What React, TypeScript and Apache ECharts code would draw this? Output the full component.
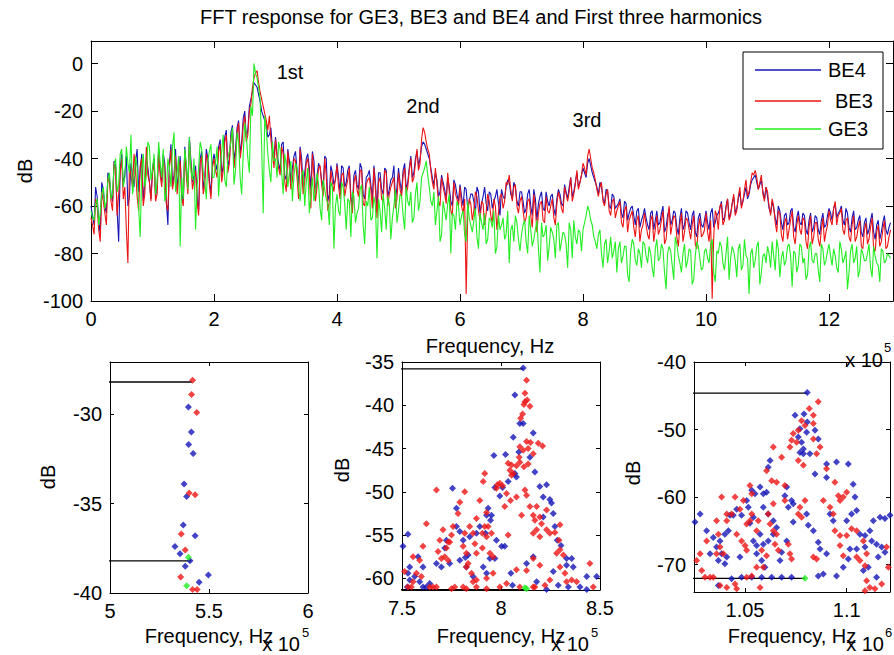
import React, { useEffect, useRef } from "react";
import * as echarts from "echarts";

// ---------- Top chart data (frequency axis x 10^5 Hz) ----------
// *_DB samples sit at x = i*0.05, *_MID samples at x = i*0.05 + 0.025
const FREQ_STEP = 0.05;
const BE4_DB = [
  -60,-68,-56,-72,-53,-63,-48,-58,-43,-75,-38,-47,-60,-42,-52,-36,-45,-58,-40,-50,
  -44,-56,-36,-50,-42,-68,-34,-47,-53,-39,-58,-45,-31,-50,-43,-62,-37,-48,-40,-55,
  -38,-45,-32,-43,-28,-40,-26,-36,-24,-33,-20,-28,-15,-8,-10,-16,-22,-26,-30,-36,
  -31,-42,-34,-47,-36,-50,-39,-45,-35,-52,-40,-44,-37,-55,-42,-49,-39,-58,-43,-51,
  -42,-54,-44,-50,-43,-60,-45,-53,-44,-57,-47,-51,-43,-62,-46,-55,-45,-53,-48,-58,
  -44,-54,-42,-50,-39,-46,-37,-40,-33,-36,-40,-48,-46,-56,-47,-53,-48,-58,-49,-55,
  -51,-60,-53,-58,-55,-63,-54,-59,-52,-62,-55,-58,-53,-64,-56,-52,-50,-57,-52,-60,
  -54,-63,-55,-60,-53,-66,-56,-61,-54,-60,-55,-64,-53,-59,-51,-57,-48,-54,-46,-50,
  -44,-48,-40,-46,-50,-55,-52,-59,-54,-61,-56,-60,-57,-65,-59,-63,-60,-68,-61,-66,
  -61,-68,-63,-70,-62,-67,-60,-69,-61,-66,-63,-72,-61,-68,-63,-70,-62,-73,-63,-69,
  -62,-70,-61,-67,-63,-58,-65,-57,-63,-56,-61,-54,-58,-52,-55,-49,-47,-53,-49,-57,
  -56,-63,-61,-68,-62,-70,-63,-67,-61,-71,-62,-68,-64,-72,-63,-69,-65,-72,-63,-68,
  -61,-66,-59,-63,-60,-68,-63,-71,-62,-69,-64,-73,-65,-70,-63,-74,-66,-71,-64,-72,-67,
];
const BE4_MID = [
  -64,-52,-66,-50,-60,-46,-55,-41,-62,-44,-51,-39,-56,-47,-41,-54,-38,-50,-44,-57,
  -40,-52,-45,-38,-58,-42,-51,-36,-46,-55,-35,-52,-41,-47,-56,-40,-53,-36,-49,-42,
  -42,-35,-47,-31,-44,-29,-41,-27,-38,-23,-31,-18,-12,-9,-13,-20,-24,-31,-27,-40,
  -38,-45,-33,-49,-41,-44,-37,-51,-40,-46,-38,-53,-41,-48,-44,-52,-40,-55,-46,-49,
  -48,-43,-52,-45,-56,-47,-51,-42,-55,-48,-45,-57,-50,-46,-53,-44,-56,-49,-43,-52,
  -50,-45,-53,-44,-48,-40,-43,-35,-34,-38,-44,-51,-49,-54,-50,-57,-52,-60,-51,-58,
  -56,-52,-61,-55,-58,-52,-63,-56,-59,-54,-61,-56,-59,-53,-57,-49,-55,-50,-58,-54,
  -58,-61,-53,-64,-57,-59,-54,-62,-58,-56,-61,-57,-55,-60,-54,-52,-56,-50,-52,-47,
  -46,-42,-43,-48,-52,-50,-57,-53,-60,-55,-61,-59,-63,-58,-66,-61,-64,-62,-69,-64,
  -65,-70,-62,-66,-68,-63,-71,-64,-68,-62,-69,-65,-70,-62,-67,-64,-71,-65,-68,-66,
  -67,-63,-69,-64,-61,-66,-60,-65,-59,-63,-57,-60,-55,-57,-51,-48,-50,-51,-54,-52,
  -61,-58,-65,-60,-67,-64,-68,-62,-69,-65,-67,-63,-70,-66,-71,-64,-70,-66,-69,-64,
  -63,-61,-65,-62,-66,-61,-69,-65,-70,-66,-71,-67,-72,-66,-71,-68,-74,-67,-70,-69,
];
const BE3_DB = [
  -65,-72,-60,-75,-58,-68,-50,-62,-45,-55,-40,-52,-84,-47,-38,-56,-43,-60,-35,-50,
  -46,-58,-38,-52,-44,-62,-36,-49,-55,-41,-60,-47,-33,-53,-45,-64,-39,-51,-42,-57,
  -40,-48,-34,-45,-30,-42,-28,-38,-25,-35,-22,-30,-17,-6,-3,-12,-18,-24,-22,-38,
  -32,-44,-35,-50,-37,-53,-40,-48,-36,-55,-42,-47,-38,-58,-44,-51,-40,-62,-45,-54,
  -43,-57,-46,-52,-44,-63,-47,-56,-45,-60,-49,-53,-44,-65,-48,-58,-46,-55,-50,-61,
  -46,-56,-44,-52,-40,-48,-36,-42,-27,-33,-38,-50,-44,-58,-48,-55,-46,-62,-50,-57,
  -52,-63,-97,-57,-66,-54,-62,-58,-68,-55,-64,-57,-70,-56,-61,-50,-47,-58,-51,-63,
  -56,-67,-58,-64,-55,-71,-59,-66,-56,-63,-57,-68,-54,-61,-52,-58,-48,-55,-45,-50,
  -42,-47,-36,-44,-49,-56,-50,-60,-53,-64,-57,-62,-58,-69,-60,-66,-62,-73,-64,-70,
  -63,-72,-66,-75,-64,-70,-62,-74,-60,-68,-65,-77,-63,-71,-66,-74,-64,-78,-65,-72,
  -63,-75,-99,-62,-70,-59,-66,-57,-64,-55,-62,-52,-58,-49,-54,-46,-45,-53,-47,-58,
  -54,-64,-60,-71,-63,-75,-65,-70,-62,-76,-64,-72,-66,-78,-64,-73,-67,-77,-65,-71,
  -62,-68,-58,-64,-61,-72,-65,-75,-64,-73,-66,-78,-67,-74,-65,-79,-68,-75,-66,-77,-70,
];
const BE3_MID = [
  -68,-57,-70,-54,-63,-48,-58,-42,-64,-46,-57,-70,-43,-52,-45,-62,-40,-55,-47,-58,
  -42,-55,-47,-40,-59,-44,-53,-39,-48,-57,-37,-55,-43,-49,-58,-42,-55,-38,-51,-44,
  -45,-37,-50,-33,-46,-31,-44,-29,-40,-26,-33,-20,-10,-4,-8,-15,-21,-28,-32,-44,
  -40,-47,-38,-54,-44,-49,-41,-57,-45,-50,-40,-61,-47,-52,-43,-56,-47,-58,-50,-48,
  -52,-47,-56,-49,-58,-50,-53,-45,-59,-51,-48,-61,-53,-50,-57,-45,-60,-52,-48,-57,
  -53,-47,-55,-45,-50,-42,-45,-32,-29,-36,-45,-53,-51,-60,-52,-59,-54,-64,-55,-60,
  -60,-57,-64,-59,-62,-56,-66,-59,-63,-58,-67,-60,-63,-55,-58,-51,-53,-52,-60,-58,
  -62,-65,-57,-69,-61,-63,-58,-67,-62,-60,-65,-59,-57,-63,-55,-54,-58,-51,-53,-47,
  -44,-39,-40,-46,-53,-52,-58,-55,-62,-58,-65,-60,-67,-62,-71,-64,-69,-66,-75,-68,
  -68,-74,-64,-70,-72,-66,-76,-67,-72,-64,-73,-68,-75,-65,-70,-68,-76,-69,-73,-70,
  -71,-66,-73,-64,-60,-68,-61,-66,-59,-64,-56,-61,-53,-56,-50,-47,-48,-50,-55,-52,
  -60,-57,-67,-62,-72,-67,-74,-66,-73,-68,-70,-65,-75,-69,-76,-67,-74,-70,-75,-68,
  -66,-61,-68,-63,-70,-66,-73,-68,-75,-69,-77,-70,-76,-69,-78,-71,-77,-70,-78,-73,
];
const GE3_DB = [
  -62,-66,-57,-63,-52,-58,-46,-55,-40,-51,-36,-48,-42,-30,-50,-44,-73,-38,-47,-35,
  -45,-55,-33,-48,-58,-40,-52,-29,-46,-77,-57,-42,-31,-49,-70,-44,-36,-50,-41,-34,
  -48,-35,-44,-30,-52,-37,-27,-45,-33,-55,-25,-40,-18,0,-6,-15,-63,-28,-45,-33,
  -40,-33,-46,-38,-52,-41,-47,-44,-58,-45,-50,-63,-48,-54,-51,-66,-53,-59,-50,-78,
  -55,-64,-52,-70,-58,-54,-67,-61,-51,-76,-60,-66,-56,-82,-62,-55,-70,-59,-65,-53,
  -62,-56,-70,-58,-54,-65,-50,-58,-46,-41,-52,-60,-68,-56,-72,-62,-59,-80,-64,-58,
  -68,-62,-75,-65,-71,-61,-78,-67,-63,-74,-66,-62,-77,-70,-65,-72,-84,-68,-64,-74,
  -72,-66,-80,-70,-74,-66,-88,-73,-68,-77,-71,-82,-67,-75,-72,-86,-70,-66,-76,-71,
  -70,-64,-62,-68,-75,-72,-80,-76,-84,-73,-79,-88,-75,-81,-77,-92,-74,-83,-78,-86,
  -76,-84,-80,-90,-74,-82,-78,-95,-77,-85,-73,-81,-88,-76,-83,-79,-91,-75,-82,-86,
  -78,-84,-74,-92,-80,-77,-87,-73,-82,-79,-90,-76,-85,-81,-97,-78,-83,-75,-88,-80,
  -77,-86,-81,-74,-90,-79,-83,-76,-94,-80,-85,-77,-82,-89,-75,-84,-80,-92,-78,-83,
  -76,-85,-81,-88,-78,-82,-95,-79,-84,-77,-87,-80,-83,-76,-90,-81,-85,-78,-84,-80,-82,
];
const GE3_MID = [
  -65,-59,-68,-55,-61,-49,-57,-43,-54,-38,-52,-35,-46,-55,-39,-61,-45,-52,-33,-49,
  -38,-50,-42,-36,-55,-44,-35,-54,-39,-48,-36,-53,-45,-40,-52,-33,-46,-57,-37,-48,
  -42,-56,-37,-49,-40,-33,-51,-29,-48,-38,-30,-46,-22,-4,-10,-35,-22,-38,-50,-41,
  -48,-36,-55,-43,-46,-58,-42,-53,-47,-60,-44,-55,-58,-46,-61,-49,-57,-68,-52,-60,
  -62,-50,-59,-57,-73,-56,-63,-53,-68,-58,-52,-65,-60,-57,-71,-61,-56,-74,-60,-67,
  -55,-64,-52,-60,-67,-55,-62,-48,-44,-47,-58,-54,-62,-75,-58,-66,-55,-63,-70,-60,
  -64,-72,-58,-68,-66,-73,-63,-70,-76,-65,-69,-80,-64,-68,-74,-62,-70,-75,-67,-79,
  -68,-75,-64,-77,-70,-78,-67,-72,-83,-69,-74,-68,-79,-71,-76,-67,-82,-73,-70,-79,
  -67,-60,-66,-73,-78,-70,-86,-74,-79,-82,-75,-78,-84,-77,-89,-79,-76,-85,-80,-75,
  -81,-77,-86,-78,-83,-76,-88,-80,-79,-91,-76,-84,-80,-86,-78,-93,-81,-77,-87,-79,
  -82,-76,-88,-79,-75,-84,-80,-91,-77,-83,-78,-87,-74,-82,-80,-86,-77,-93,-81,-84,
  -80,-75,-87,-78,-82,-85,-77,-81,-79,-88,-76,-84,-91,-78,-83,-80,-87,-76,-85,-79,
  -81,-78,-86,-75,-84,-79,-88,-76,-82,-90,-78,-83,-80,-86,-77,-84,-92,-79,-83,-81,
];

// ---------- Harmonic zoom data ----------
// 2nd harmonic (x 10^5 Hz)
const H2_BE4 = [[5.396,-29.6],[5.411,-31.0],[5.397,-31.7],[5.420,-32.2],[5.374,-33.9],[5.387,-34.6],[5.370,-36.2],[5.430,-36.8],[5.328,-37.4],[5.354,-37.8],[5.404,-38.2],[5.380,-38.5],[5.497,-39.0],[5.450,-39.4]];
const H2_BE3 = [[5.417,-28.1],[5.412,-28.9],[5.438,-29.9],[5.400,-34.4],[5.430,-34.5],[5.360,-36.7],[5.380,-37.6],[5.357,-39.1],[5.417,-39.8],[5.440,-39.8]];
const H2_GE3 = [[5.396,-38.0],[5.387,-39.6]];
const H2_PEAKS = [[[4.943,-28.2],[5.415,-28.2]],[[4.933,-38.2],[5.41,-38.2]]];
// 3rd harmonic (x 10^5 Hz)
const H3_BE4 = [[8.112,-35.7],[8.070,-38.8],[8.062,-43.7],[8.095,-42.1],[8.112,-42.1],[8.163,-43.2],[8.090,-45.4],[8.146,-46.0],[7.964,-45.8],[8.023,-45.7],[8.078,-48.3],[8.070,-47.9],[8.036,-48.8],[8.008,-49.5],[7.994,-50.5],[7.969,-49.5],[7.935,-51.9],[7.952,-52.7],[7.927,-52.7],[7.947,-53.3],[7.893,-54.0],[7.922,-54.8],[7.876,-54.8],[7.842,-55.2],[7.775,-51.9],[7.775,-54.0],[7.755,-49.6],[7.792,-54.6],[7.809,-55.6],[7.834,-57.3],[7.724,-55.6],[7.716,-56.5],[7.741,-58.3],[7.792,-57.9],[7.820,-57.6],[7.530,-54.9],[7.505,-56.3],[7.581,-57.5],[7.539,-58.7],[7.530,-59.4],[7.539,-60.2],[7.564,-59.8],[7.589,-60.4],[7.606,-61.0],[7.623,-61.0],[7.527,-61.0],[7.640,-60.6],[7.606,-58.7],[7.674,-58.3],[7.699,-58.7],[7.825,-58.7],[7.859,-59.8],[7.910,-58.7],[7.927,-59.4],[7.944,-57.7],[7.969,-57.7],[7.977,-55.6],[8.003,-56.3],[8.019,-56.3],[8.050,-59.4],[8.058,-60.8],[8.129,-58.3],[8.163,-57.5],[8.171,-47.7],[8.213,-50.6],[8.196,-49.4],[8.230,-49.2],[8.247,-50.9],[8.255,-51.3],[8.213,-52.9],[8.264,-52.5],[8.272,-54.0],[8.284,-55.6],[8.303,-56.2],[8.331,-57.7],[8.357,-57.7],[8.331,-58.5],[8.365,-58.7],[8.289,-60.8],[8.340,-61.0],[8.399,-61.0],[8.433,-59.8],[8.466,-61.5],[8.433,-61.3],[8.483,-59.8],[8.230,-61.3],[8.180,-60.4],[8.264,-59.2]];
const H3_BE3 = [[8.129,-37.1],[8.121,-38.6],[8.132,-39.4],[8.146,-40.1],[8.121,-39.6],[8.116,-39.9],[8.099,-41.5],[8.109,-41.0],[8.129,-44.2],[8.149,-44.3],[8.137,-45.0],[8.188,-44.4],[8.210,-44.7],[8.163,-45.6],[8.112,-45.2],[8.095,-44.8],[8.092,-46.0],[8.095,-46.6],[8.078,-47.0],[8.036,-46.7],[8.053,-46.9],[8.045,-47.5],[8.062,-47.9],[8.053,-48.1],[8.116,-47.1],[8.137,-46.8],[7.994,-49.0],[8.008,-49.3],[7.982,-49.2],[7.977,-49.6],[8.028,-50.2],[8.048,-51.0],[8.078,-50.6],[8.129,-50.4],[8.121,-49.8],[8.146,-51.7],[8.180,-51.7],[8.163,-52.7],[8.196,-52.9],[8.171,-53.3],[8.205,-53.7],[8.180,-54.4],[8.230,-54.4],[8.247,-54.8],[8.272,-54.7],[8.298,-53.8],[8.163,-54.8],[8.196,-55.2],[8.230,-52.1],[8.293,-55.6],[8.298,-56.7],[8.281,-57.1],[8.315,-57.3],[8.163,-57.7],[8.196,-58.5],[8.129,-59.1],[8.298,-58.7],[8.323,-59.4],[8.357,-60.2],[8.382,-60.4],[8.331,-60.4],[8.449,-58.3],[8.466,-61.0],[8.247,-60.2],[8.222,-60.8],[8.171,-61.0],[7.893,-51.0],[7.918,-47.9],[7.910,-48.8],[7.927,-52.4],[7.935,-54.0],[7.952,-54.8],[7.918,-54.0],[7.906,-54.8],[7.927,-55.2],[7.876,-53.1],[7.842,-54.0],[7.859,-54.8],[7.868,-56.0],[7.876,-57.1],[7.906,-56.5],[7.944,-57.1],[7.960,-57.5],[7.825,-57.1],[7.834,-58.3],[7.825,-58.7],[7.851,-59.4],[7.859,-60.4],[7.876,-60.2],[7.927,-60.0],[7.792,-51.2],[7.783,-52.5],[7.817,-50.0],[7.817,-54.8],[7.809,-56.3],[7.758,-54.0],[7.750,-55.0],[7.733,-55.8],[7.707,-54.4],[7.724,-56.5],[7.741,-55.8],[7.716,-57.5],[7.733,-57.9],[7.691,-55.6],[7.682,-56.9],[7.699,-57.7],[7.674,-49.8],[7.623,-53.7],[7.606,-56.3],[7.598,-59.8],[7.573,-59.4],[7.556,-60.4],[7.547,-61.0],[7.530,-61.0],[7.513,-59.2],[7.589,-57.9],[7.640,-61.0],[7.657,-61.0],[7.674,-61.0],[7.750,-61.2],[7.766,-61.0],[7.809,-61.0],[7.825,-61.2],[7.876,-61.0],[7.927,-61.2],[7.994,-61.0],[8.028,-60.6],[7.960,-59.4],[8.078,-59.0],[8.095,-61.0],[8.163,-61.0],[8.104,-52.7],[8.019,-51.7],[8.036,-55.0],[7.556,-57.5]];
const H3_GE3 = [[8.121,-61.1],[8.129,-61.2]];
const H3_PEAKS = [[[7.463,-35.8],[8.112,-35.8]],[[7.463,-61.3],[8.12,-61.3]]];
// 4th harmonic (x 10^6 Hz)
const H4_BE4 = [[1.0806,-44.5],[1.0746,-47.9],[1.0790,-47.7],[1.0806,-48.9],[1.0770,-49.9],[1.0803,-50.4],[1.0844,-50.1],[1.0860,-51.4],[1.0762,-51.1],[1.0778,-51.9],[1.0787,-52.9],[1.0770,-53.4],[1.0787,-53.6],[1.0819,-53.6],[1.0901,-55.1],[1.0950,-54.8],[1.1008,-55.1],[1.0844,-56.6],[1.0901,-57.1],[1.0705,-58.5],[1.0696,-59.8],[1.0729,-60.5],[1.0737,-61.0],[1.0713,-61.5],[1.0623,-54.6],[1.0614,-55.6],[1.0533,-59.0],[1.0549,-59.5],[1.0574,-58.5],[1.0590,-59.5],[1.0606,-59.3],[1.0508,-60.5],[1.0516,-61.5],[1.0483,-62.7],[1.0524,-63.9],[1.0541,-63.0],[1.0590,-61.5],[1.0614,-62.5],[1.0639,-63.5],[1.0655,-64.5],[1.0639,-65.5],[1.0614,-66.5],[1.0574,-65.5],[1.0590,-67.0],[1.0557,-68.4],[1.0582,-69.4],[1.0598,-70.4],[1.0442,-62.7],[1.0459,-61.8],[1.0426,-62.7],[1.0418,-65.0],[1.0401,-65.5],[1.0377,-66.5],[1.0344,-66.0],[1.0328,-68.4],[1.0360,-67.4],[1.0385,-68.4],[1.0410,-68.9],[1.0401,-69.9],[1.0369,-69.4],[1.0475,-68.9],[1.0311,-65.0],[1.0279,-62.5],[1.0254,-63.7],[1.0369,-73.1],[1.0434,-72.1],[1.0483,-71.9],[1.0533,-71.9],[1.0582,-71.9],[1.0631,-71.9],[1.0680,-71.9],[1.0729,-71.9],[1.0672,-69.4],[1.0680,-68.2],[1.0705,-66.5],[1.0737,-63.7],[1.0803,-62.5],[1.0811,-64.2],[1.0836,-65.0],[1.0860,-66.7],[1.0869,-67.7],[1.0901,-68.4],[1.0885,-71.4],[1.0860,-71.7],[1.0950,-71.7],[1.0983,-70.4],[1.1008,-69.2],[1.1016,-67.7],[1.1049,-67.7],[1.1090,-67.4],[1.0918,-62.5],[1.0934,-63.5],[1.1000,-63.5],[1.1024,-62.5],[1.1049,-62.0],[1.1065,-65.5],[1.1090,-65.7],[1.1114,-65.0],[1.1123,-66.5],[1.1147,-67.0],[1.1172,-67.4],[1.1188,-68.2],[1.1155,-68.9],[1.1131,-63.5],[1.1164,-63.0],[1.1188,-63.2],[1.1213,-62.7],[1.1032,-58.1],[1.1041,-60.0],[1.1082,-70.9],[1.1106,-70.4],[1.1147,-71.9],[1.0541,-66.5],[1.0557,-67.2]];
const H4_BE3 = [[1.0860,-45.9],[1.0816,-46.9],[1.0836,-47.9],[1.0778,-48.7],[1.0795,-49.4],[1.0762,-50.1],[1.0737,-50.6],[1.0729,-51.6],[1.0754,-51.9],[1.0836,-51.4],[1.0869,-52.6],[1.0852,-53.6],[1.0639,-52.6],[1.0680,-54.1],[1.0721,-52.6],[1.0762,-54.6],[1.0787,-55.3],[1.0606,-56.1],[1.0631,-57.6],[1.0655,-57.8],[1.0696,-58.3],[1.0696,-60.5],[1.0639,-61.0],[1.0770,-61.5],[1.0762,-62.5],[1.0778,-63.0],[1.0524,-58.3],[1.0533,-59.5],[1.0451,-60.0],[1.0492,-60.5],[1.0475,-61.8],[1.0533,-62.5],[1.0524,-63.5],[1.0508,-64.0],[1.0565,-63.5],[1.0557,-65.0],[1.0614,-62.5],[1.0623,-64.0],[1.0639,-65.0],[1.0655,-65.5],[1.0647,-67.0],[1.0664,-67.9],[1.0713,-67.0],[1.0721,-68.4],[1.0729,-69.2],[1.0582,-67.9],[1.0606,-68.7],[1.0590,-70.4],[1.0459,-65.5],[1.0483,-66.5],[1.0500,-67.2],[1.0508,-67.9],[1.0385,-60.0],[1.0360,-63.5],[1.0369,-65.5],[1.0377,-67.4],[1.0393,-68.4],[1.0360,-68.4],[1.0410,-62.5],[1.0434,-62.5],[1.0410,-63.5],[1.0311,-66.5],[1.0279,-68.4],[1.0262,-69.4],[1.0287,-70.9],[1.0303,-71.9],[1.0328,-71.9],[1.0344,-71.9],[1.0377,-73.1],[1.0410,-73.4],[1.0451,-72.9],[1.0459,-73.6],[1.0557,-70.4],[1.0574,-73.4],[1.0508,-71.9],[1.0533,-71.7],[1.0795,-60.5],[1.0836,-68.9],[1.0852,-69.2],[1.0885,-60.5],[1.0918,-61.5],[1.0934,-62.5],[1.0967,-60.5],[1.0959,-59.8],[1.0983,-60.0],[1.1000,-59.3],[1.0942,-57.8],[1.0901,-55.8],[1.0942,-65.0],[1.0967,-65.7],[1.0967,-67.2],[1.0983,-68.7],[1.1000,-65.7],[1.1024,-64.7],[1.1049,-65.0],[1.1049,-68.9],[1.1065,-69.4],[1.1090,-70.2],[1.1098,-72.4],[1.1114,-73.4],[1.1139,-73.6],[1.1172,-72.9],[1.1082,-66.5],[1.1098,-68.4],[1.1196,-67.4],[1.1205,-70.4],[1.1090,-73.9],[1.0836,-49.1]];
const H4_GE3 = [[1.0795,-72.05]];
const H4_PEAKS = [[[1.0151,-44.6],[1.0806,-44.6]],[[1.0136,-72.05],[1.0795,-72.05]]];

// ---------- Axis ticks ----------
const TOP_X_TICKS = [0, 2, 4, 6, 8, 10, 12];
const TOP_Y_TICKS = [-100, -80, -60, -40, -20, 0];
const H2_X_TICKS = [5, 5.5, 6];
const H2_Y_TICKS = [-40, -35, -30];
const H3_X_TICKS = [7.5, 8, 8.5];
const H3_Y_TICKS = [-60, -55, -50, -45, -40, -35];
const H4_X_TICKS = [1.05, 1.1];
const H4_Y_TICKS = [-70, -60, -50, -40];

const SERIES_NAMES = ["BE4", "BE3", "GE3"];
const HARMONIC_LABELS = ["1st", "2nd", "3rd"];

const BLUE = "#1414b8";
const RED = "#ee1414";
const GREEN = "#22ee22";
const FONT = "Liberation Sans, Arial, Helvetica, sans-serif";
const FS = 20;

function fmt(v: number) {
  return String(+Number(v).toFixed(4));
}

function axesFor(
  g: number,
  xmin: number,
  xmax: number,
  xt: number[],
  ymin: number,
  ymax: number,
  yt: number[],
  tickLen: number
) {
  const line = { show: true, onZero: false, lineStyle: { color: "#000", width: 1 } };
  const lbl = { color: "#000", fontSize: FS, fontFamily: FONT };
  const xs = [
    {
      type: "value", gridIndex: g, position: "bottom", min: xmin, max: xmax,
      axisLine: line,
      axisTick: { show: true, inside: true, length: tickLen, customValues: xt, lineStyle: { color: "#000" } },
      axisLabel: { ...lbl, margin: 8, customValues: xt, formatter: fmt },
      splitLine: { show: false },
    },
    {
      type: "value", gridIndex: g, position: "top", min: xmin, max: xmax,
      axisLine: line,
      axisTick: { show: true, inside: true, length: tickLen, customValues: xt, lineStyle: { color: "#000" } },
      axisLabel: { show: false },
      splitLine: { show: false },
    },
  ];
  const ys = [
    {
      type: "value", gridIndex: g, position: "left", min: ymin, max: ymax,
      axisLine: line,
      axisTick: { show: true, inside: true, length: tickLen, customValues: yt, lineStyle: { color: "#000" } },
      axisLabel: { ...lbl, margin: 8, customValues: yt, formatter: fmt },
      splitLine: { show: false },
    },
    {
      type: "value", gridIndex: g, position: "right", min: ymin, max: ymax,
      axisLine: line,
      axisTick: { show: true, inside: true, length: tickLen, customValues: yt, lineStyle: { color: "#000" } },
      axisLabel: { show: false },
      splitLine: { show: false },
    },
  ];
  return { xs, ys };
}

function txt(x: number, y: number, text: string, opts: any = {}) {
  return {
    type: "text",
    x,
    y,
    rotation: opts.rotation || 0,
    z: 100,
    style: {
      text,
      fill: "#000",
      font: `${opts.size || FS}px ${FONT}`,
      align: opts.align || "center",
      verticalAlign: opts.va || "middle",
    },
  };
}

function interleave(main: number[], mid: number[]) {
  const out: number[][] = [];
  main.forEach((v, i) => {
    out.push([+(i * FREQ_STEP).toFixed(3), v]);
    if (i < mid.length) out.push([+(i * FREQ_STEP + FREQ_STEP / 2).toFixed(3), mid[i]]);
  });
  return out;
}

export default function App() {
  const ref = useRef<HTMLDivElement>(null);
  useEffect(() => {
    if (!ref.current) return;
    const chart = echarts.init(ref.current, null, { renderer: "svg" });

    const a0 = axesFor(0, 0, 13.04, TOP_X_TICKS, -100, 9.5, TOP_Y_TICKS, 7);
    const a1 = axesFor(1, 5, 6, H2_X_TICKS, -40, -27.08, H2_Y_TICKS, 4);
    const a2 = axesFor(2, 7.5, 8.5, H3_X_TICKS, -61.35, -35, H3_Y_TICKS, 4);
    const a3 = axesFor(3, 1.0249, 1.1213, H4_X_TICKS, -74.07, -40, H4_Y_TICKS, 4);
    const xAxis = [...a0.xs, ...a1.xs, ...a2.xs, ...a3.xs];
    const yAxis = [...a0.ys, ...a1.ys, ...a2.ys, ...a3.ys];

    const topColors = [BLUE, RED, GREEN];
    const topData = [
      interleave(BE4_DB, BE4_MID),
      interleave(BE3_DB, BE3_MID),
      interleave(GE3_DB, GE3_MID),
    ];
    const series: any[] = topData.map((d, k) => ({
      type: "line",
      name: SERIES_NAMES[k],
      xAxisIndex: 0,
      yAxisIndex: 0,
      data: d,
      symbol: "none",
      showSymbol: false,
      lineStyle: { color: topColors[k], width: 1.1 },
      itemStyle: { color: topColors[k] },
      z: 2 + k,
    }));

    const sub = [
      { g: 1, pts: [H2_BE4, H2_BE3, H2_GE3], peaks: H2_PEAKS },
      { g: 2, pts: [H3_BE4, H3_BE3, H3_GE3], peaks: H3_PEAKS },
      { g: 3, pts: [H4_BE4, H4_BE3, H4_GE3], peaks: H4_PEAKS },
    ];
    sub.forEach((s) => {
      s.peaks.forEach((p) => {
        series.push({
          type: "line",
          xAxisIndex: s.g * 2,
          yAxisIndex: s.g * 2,
          data: p,
          symbol: "none",
          clip: false,
          lineStyle: { color: "#000", width: 1.3 },
          z: 2,
        });
      });
      s.pts.forEach((p, k) => {
        series.push({
          type: "scatter",
          name: SERIES_NAMES[k],
          xAxisIndex: s.g * 2,
          yAxisIndex: s.g * 2,
          data: p,
          symbol: "diamond",
          symbolSize: 7,
          itemStyle: { color: topColors[k] },
          z: 3 + k,
        });
      });
    });

    const legendY = [70, 101, 129];
    const legendTextX = [828, 835, 828];
    const legendEls: any[] = [
      {
        type: "rect",
        shape: { x: 743, y: 52, width: 140, height: 97 },
        style: { fill: "#fff", stroke: "#000", lineWidth: 1 },
        z: 90,
      },
    ];
    SERIES_NAMES.forEach((n, k) => {
      legendEls.push({
        type: "line",
        shape: { x1: 755, y1: legendY[k], x2: 821, y2: legendY[k] },
        style: { stroke: topColors[k], lineWidth: 1.5 },
        z: 95,
      });
      legendEls.push(txt(legendTextX[k], legendY[k], n, { align: "left" }));
    });

    const graphic: any[] = [
      txt(481, 17, "FFT response for GE3, BE3 and BE4 and First three harmonics"),
      txt(25, 171, "dB", { rotation: Math.PI / 2 }),
      txt(48, 477, "dB", { rotation: Math.PI / 2 }),
      txt(342, 470, "dB", { rotation: Math.PI / 2 }),
      txt(633, 473, "dB", { rotation: Math.PI / 2 }),
      txt(490, 346, "Frequency, Hz"),
      txt(209, 636, "Frequency, Hz"),
      txt(501, 636, "Frequency, Hz"),
      txt(792, 636, "Frequency, Hz"),
      txt(883, 360, "x 10", { align: "right" }),
      txt(884, 347, "5", { align: "left", size: 13 }),
      txt(300, 644, "x 10", { align: "right" }),
      txt(302, 632, "5", { align: "left", size: 13 }),
      txt(589, 644, "x 10", { align: "right" }),
      txt(591, 632, "5", { align: "left", size: 13 }),
      txt(884, 644, "x 10", { align: "right" }),
      txt(885, 632, "6", { align: "left", size: 13 }),
      txt(290, 72, HARMONIC_LABELS[0]),
      txt(423, 106, HARMONIC_LABELS[1]),
      txt(587, 120, HARMONIC_LABELS[2]),
      ...legendEls,
    ];

    chart.setOption({
      animation: false,
      backgroundColor: "#fff",
      textStyle: { fontFamily: FONT },
      grid: [
        { left: 91, top: 41, width: 802, height: 260, outerBoundsMode: "none", containLabel: false },
        { left: 110, top: 362, width: 198, height: 231, outerBoundsMode: "none", containLabel: false },
        { left: 402, top: 362, width: 198, height: 228, outerBoundsMode: "none", containLabel: false },
        { left: 694, top: 362, width: 196, height: 230, outerBoundsMode: "none", containLabel: false },
      ],
      xAxis,
      yAxis,
      series,
      graphic,
    });
    return () => chart.dispose();
  }, []);
  return (
    <div
      ref={ref}
      style={{ position: "fixed", left: 0, top: 0, width: 894, height: 655, background: "#fff" }}
    />
  );
}
